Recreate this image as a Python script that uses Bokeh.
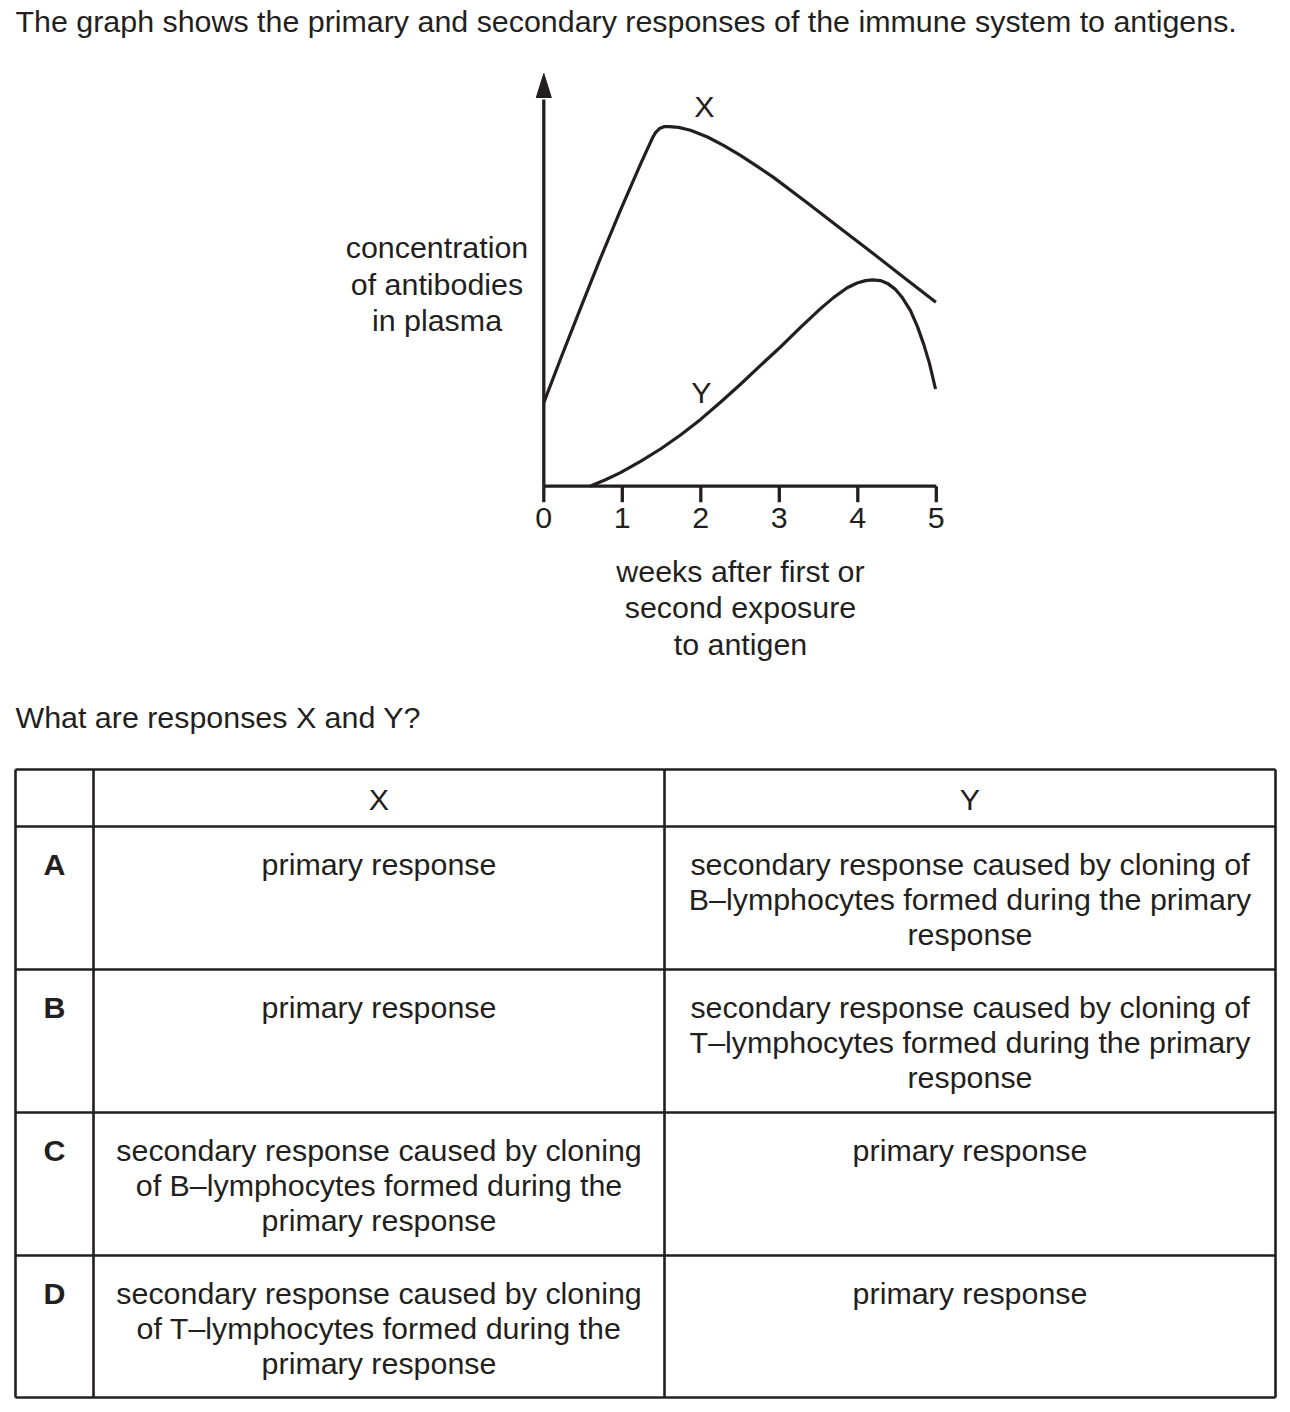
from bokeh.plotting import figure
from bokeh.models import Range1d, ColumnDataSource
from bokeh.core.properties import value
from bokeh.embed import file_html
from bokeh.resources import INLINE

# ------------------------------------------------------------------ data
question = "The graph shows the primary and secondary responses of the immune system to antigens."
prompt = "What are responses X and Y?"

week_ticks = [0, 1, 2, 3, 4, 5]
week_tick_labels = ["0", "1", "2", "3", "4", "5"]
y_label_lines = ["concentration", "of antibodies", "in plasma"]
x_label_lines = ["weeks after first or", "second exposure", "to antigen"]

# response X (arbitrary concentration units)
x_weeks = [0.000, 0.213, 0.468, 0.722, 0.977, 1.232, 1.385, 1.423, 1.474, 1.538,
           1.601, 1.716, 1.869, 2.085, 2.289, 2.505, 2.709, 2.926, 3.359, 3.780,
           4.200, 4.620, 4.995]
x_conc = [2.09, 3.18, 4.45, 5.70, 6.90, 8.05, 8.71, 8.84, 8.94, 8.99,
          8.99, 8.97, 8.90, 8.73, 8.52, 8.27, 8.01, 7.72, 7.08, 6.44,
          5.81, 5.17, 4.60]

# response Y
y_weeks = [0.589, 0.786, 0.977, 1.232, 1.487, 1.742, 1.997, 2.251, 2.506, 2.761,
           3.015, 3.270, 3.525, 3.694, 3.865, 3.992, 4.098, 4.187, 4.289, 4.378,
           4.480, 4.569, 4.671, 4.760, 4.841, 4.913, 4.990]
y_conc = [0.00, 0.16, 0.34, 0.62, 0.93, 1.28, 1.67, 2.10, 2.55, 3.02,
          3.48, 3.97, 4.44, 4.72, 4.96, 5.08, 5.14, 5.16, 5.14, 5.07,
          4.92, 4.71, 4.39, 3.99, 3.54, 3.07, 2.43]

curve_names = ["X", "Y"]

table_header = ["X", "Y"]
options = ["A", "B", "C", "D"]
answers_x = [
    ["primary response"],
    ["primary response"],
    ["secondary response caused by cloning", "of B\u2013lymphocytes formed during the", "primary response"],
    ["secondary response caused by cloning", "of T\u2013lymphocytes formed during the", "primary response"],
]
answers_y = [
    ["secondary response caused by cloning of", "B\u2013lymphocytes formed during the primary", "response"],
    ["secondary response caused by cloning of", "T\u2013lymphocytes formed during the primary", "response"],
    ["primary response"],
    ["primary response"],
]

# ------------------------------------------------------------------ style / layout
W, H = 1282, 1404
INK = "#231f20"
FONT = value("Liberation Sans")
FS = value("30.4px")
TY = -11.5                   # baseline correction for svg text placement

# chart placement on the page (pixels)
OX, OY = 543.3, 485.7        # origin of the graph
SX, SY = 78.5, 40.0          # px per week, px per concentration unit
AXIS_TOP = 97.0              # base of the arrow head
ARROW_TIP = 73.0

p = figure(width=W, height=H, x_range=Range1d(0, W), y_range=Range1d(H, 0),
           x_axis_type=None, y_axis_type=None, toolbar_location=None,
           output_backend="svg", min_border=0, outline_line_color=None,
           background_fill_color="white", border_fill_color="white")

p.extra_x_ranges = {"weeks": Range1d((0 - OX) / SX, (W - OX) / SX)}
p.extra_y_ranges = {"conc": Range1d((OY - H) / SY, OY / SY)}
G = dict(x_range_name="weeks", y_range_name="conc")

def cy(py):  # page pixel y -> concentration units
    return (OY - py) / SY

def wx(px):  # page pixel x -> weeks
    return (px - OX) / SX

# axes
p.line([week_ticks[0], week_ticks[-1]], [0, 0], line_width=3.3, line_color=INK, **G)
p.line([0, 0], [0, cy(AXIS_TOP) - 0.05], line_width=3.3, line_color=INK, **G)
p.patch([wx(OX - 7.5), 0, wx(OX + 7.5)], [cy(AXIS_TOP), cy(ARROW_TIP), cy(AXIS_TOP)],
        fill_color=INK, line_color=INK, line_width=1, **G)
p.segment(x0=week_ticks, y0=[0] * len(week_ticks), x1=week_ticks,
          y1=[-16 / SY] * len(week_ticks), line_width=3.3, line_color=INK, **G)
p.text(x=week_ticks, y=[0] * len(week_ticks), text=week_tick_labels, y_offset=43.5 + TY,
       text_align="center", text_baseline="alphabetic", text_font=FONT,
       text_font_size=FS, text_color=INK, **G)

# curves
p.line(x_weeks, x_conc, line_width=3.2, line_color=INK, line_join="round", line_cap="butt", **G)
p.line(y_weeks, y_conc, line_width=3.2, line_color=INK, line_join="round", line_cap="butt", **G)

# ---------------------------------------------------------------- texts (page coords)
def put(xs, ys, texts, align="center", bold=False):
    src = ColumnDataSource(dict(x=xs, y=[v + TY for v in ys], t=texts))
    p.text(x="x", y="y", text="t", source=src, text_align=align,
           text_baseline="alphabetic", text_font=FONT, text_font_size=FS,
           text_color=INK, text_font_style="bold" if bold else "normal")

put([15], [32], [question], align="left")
put([15], [728], [prompt], align="left")
put([436.5] * 3, [258, 294.5, 331], y_label_lines)
put([740] * 3, [582, 618.3, 654.6], x_label_lines)
put([704, 701], [116.5, 403], curve_names)

# ---------------------------------------------------------------- table
col_edges = [15, 93, 664, 1275]
row_edges = [769, 826, 969, 1112, 1255, 1397]
p.segment(x0=[col_edges[0]] * len(row_edges), y0=row_edges,
          x1=[col_edges[-1]] * len(row_edges), y1=row_edges,
          line_width=2.6, line_color=INK)
p.segment(x0=col_edges, y0=[row_edges[0]] * len(col_edges),
          x1=col_edges, y1=[row_edges[-1]] * len(col_edges),
          line_width=2.6, line_color=INK)

cx_letter = (col_edges[0] + col_edges[1]) / 2
cx_x = (col_edges[1] + col_edges[2]) / 2
cx_y = (col_edges[2] + col_edges[3]) / 2
put([cx_x, cx_y], [row_edges[0] + 41] * 2, table_header)

LS = 35
lx, ly, lt = [], [], []
bx, by, bt = [], [], []
for i, opt in enumerate(options):
    top = row_edges[i + 1]
    base = top + 48.5
    bx.append(cx_letter); by.append(base); bt.append(opt)
    for j, line in enumerate(answers_x[i]):
        lx.append(cx_x); ly.append(base + j * LS); lt.append(line)
    for j, line in enumerate(answers_y[i]):
        lx.append(cx_y); ly.append(base + j * LS); lt.append(line)
put(lx, ly, lt)
put(bx, by, bt, bold=True)

open("out.html", "w").write(file_html(p, INLINE))
